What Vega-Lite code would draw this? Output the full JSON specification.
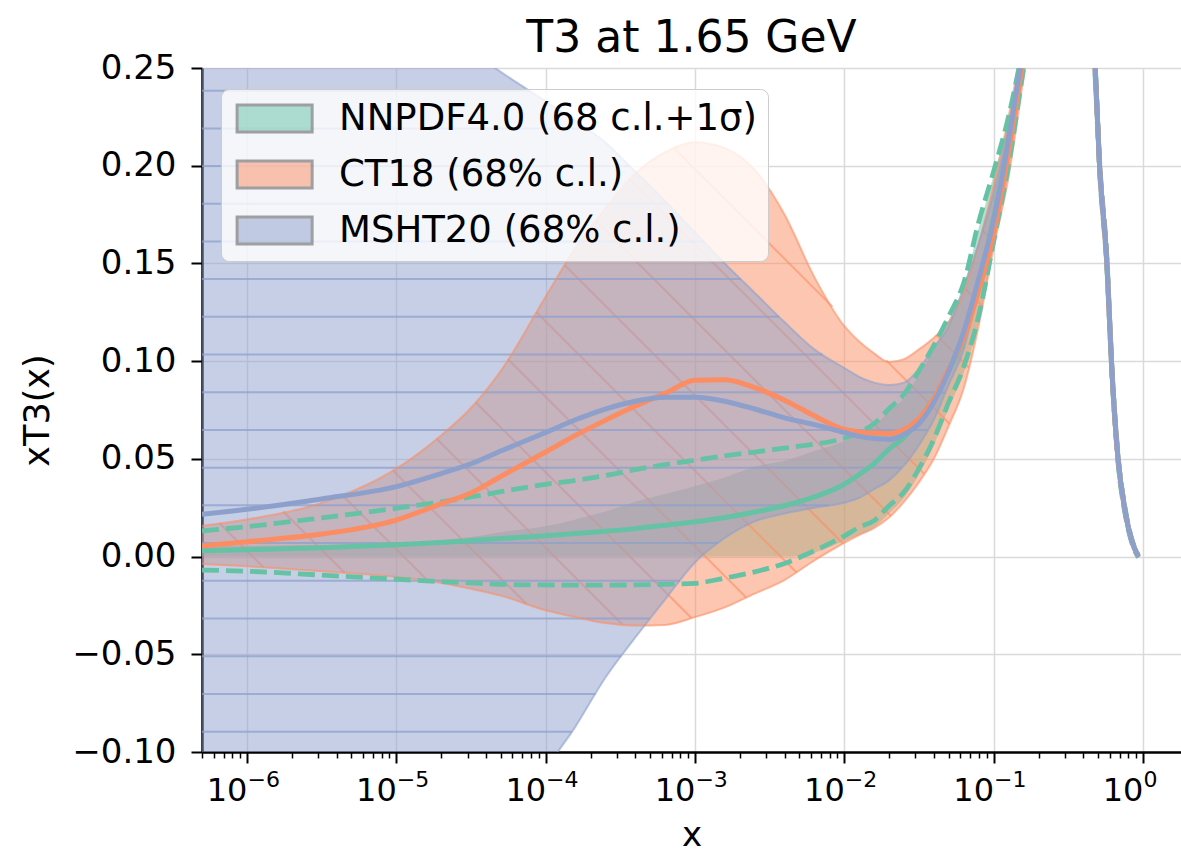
{
  "$schema": "https://vega.github.io/schema/vega-lite/v6.json",
  "width": 979,
  "height": 684,
  "autosize": {"type": "none"},
  "padding": {"left": 202, "top": 68, "right": 0, "bottom": 100},
  "background": "white",
  "title": {"text": "T3 at 1.65 GeV", "fontSize": 44, "font": "DejaVu Sans", "fontWeight": "normal", "color": "black", "offset": -10, "anchor": "middle"},
  "config": {
    "view": {"stroke": null},
    "font": "DejaVu Sans",
    "axis": {"labelFont": "DejaVu Sans", "titleFont": "DejaVu Sans", "labelColor": "black", "titleColor": "black", "titleFontWeight": "normal", "domainColor": "black", "tickColor": "black", "gridColor": "#dadada", "gridWidth": 1.5}
  },
  "datasets": {
    "pdfs": [
      {"pdf":"NNPDF4.0","x":5e-7,"mid":0.003,"lo":0.0,"hi":0.005,"slo":-0.0069,"shi":0.0131},
      {"pdf":"NNPDF4.0","x":1e-6,"mid":0.0035,"lo":0.0,"hi":0.0055,"slo":-0.0075,"shi":0.0153},
      {"pdf":"NNPDF4.0","x":3.162e-6,"mid":0.0045,"lo":0.0,"hi":0.006,"slo":-0.0095,"shi":0.0198},
      {"pdf":"NNPDF4.0","x":1e-5,"mid":0.006,"lo":0.0,"hi":0.007,"slo":-0.0116,"shi":0.0247},
      {"pdf":"NNPDF4.0","x":1.995e-5,"mid":0.0072,"lo":0.0,"hi":0.0085,"slo":-0.0128,"shi":0.028},
      {"pdf":"NNPDF4.0","x":3.162e-5,"mid":0.0082,"lo":0.0,"hi":0.01,"slo":-0.0135,"shi":0.0305},
      {"pdf":"NNPDF4.0","x":5.012e-5,"mid":0.0092,"lo":0.0,"hi":0.0125,"slo":-0.0142,"shi":0.0332},
      {"pdf":"NNPDF4.0","x":1e-4,"mid":0.0107,"lo":0.0,"hi":0.0155,"slo":-0.0145,"shi":0.037},
      {"pdf":"NNPDF4.0","x":1.585e-4,"mid":0.0118,"lo":0.0,"hi":0.019,"slo":-0.0146,"shi":0.039},
      {"pdf":"NNPDF4.0","x":2.512e-4,"mid":0.013,"lo":0.0,"hi":0.023,"slo":-0.0146,"shi":0.0415},
      {"pdf":"NNPDF4.0","x":3.981e-4,"mid":0.0143,"lo":0.0,"hi":0.028,"slo":-0.0145,"shi":0.0445},
      {"pdf":"NNPDF4.0","x":6.31e-4,"mid":0.016,"lo":0.0,"hi":0.032,"slo":-0.0142,"shi":0.047},
      {"pdf":"NNPDF4.0","x":1e-3,"mid":0.0178,"lo":0.0,"hi":0.036,"slo":-0.0137,"shi":0.0493},
      {"pdf":"NNPDF4.0","x":1.585e-3,"mid":0.02,"lo":0.0,"hi":0.0405,"slo":-0.011,"shi":0.0515},
      {"pdf":"NNPDF4.0","x":2.512e-3,"mid":0.0228,"lo":0.0,"hi":0.046,"slo":-0.0078,"shi":0.0535},
      {"pdf":"NNPDF4.0","x":3.981e-3,"mid":0.026,"lo":0.0,"hi":0.049,"slo":-0.0035,"shi":0.0555},
      {"pdf":"NNPDF4.0","x":6.31e-3,"mid":0.0305,"lo":0.002,"hi":0.054,"slo":0.003,"shi":0.0575},
      {"pdf":"NNPDF4.0","x":0.01,"mid":0.037,"lo":0.008,"hi":0.059,"slo":0.0105,"shi":0.0605},
      {"pdf":"NNPDF4.0","x":0.01259,"mid":0.042,"lo":0.011,"hi":0.0625,"slo":0.015,"shi":0.0635},
      {"pdf":"NNPDF4.0","x":0.01585,"mid":0.0476,"lo":0.015,"hi":0.067,"slo":0.0184,"shi":0.068},
      {"pdf":"NNPDF4.0","x":0.01995,"mid":0.055,"lo":0.022,"hi":0.074,"slo":0.026,"shi":0.0756},
      {"pdf":"NNPDF4.0","x":0.02512,"mid":0.061,"lo":0.03,"hi":0.081,"slo":0.033,"shi":0.083},
      {"pdf":"NNPDF4.0","x":0.03162,"mid":0.07,"lo":0.042,"hi":0.093,"slo":0.045,"shi":0.095},
      {"pdf":"NNPDF4.0","x":0.03981,"mid":0.081,"lo":0.057,"hi":0.106,"slo":0.06,"shi":0.108},
      {"pdf":"NNPDF4.0","x":0.05012,"mid":0.095,"lo":0.076,"hi":0.121,"slo":0.079,"shi":0.123},
      {"pdf":"NNPDF4.0","x":0.0631,"mid":0.112,"lo":0.094,"hi":0.138,"slo":0.097,"shi":0.14},
      {"pdf":"NNPDF4.0","x":0.07943,"mid":0.139,"lo":0.12,"hi":0.168,"slo":0.123,"shi":0.171},
      {"pdf":"NNPDF4.0","x":0.1,"mid":0.173,"lo":0.158,"hi":0.195,"slo":0.161,"shi":0.197},
      {"pdf":"NNPDF4.0","x":0.1259,"mid":0.212,"lo":0.197,"hi":0.223,"slo":0.2,"shi":0.225},
      {"pdf":"NNPDF4.0","x":0.1585,"mid":0.258,"lo":0.246,"hi":0.26,"slo":0.249,"shi":0.262},
      {"pdf":"NNPDF4.0","x":0.1995,"mid":0.3,"lo":0.294,"hi":0.306,"slo":0.294,"shi":0.306},
      {"pdf":"NNPDF4.0","x":0.2512,"mid":0.335,"lo":0.329,"hi":0.341,"slo":0.329,"shi":0.341},
      {"pdf":"NNPDF4.0","x":0.3162,"mid":0.345,"lo":0.339,"hi":0.351,"slo":0.339,"shi":0.351},
      {"pdf":"NNPDF4.0","x":0.3981,"mid":0.31,"lo":0.305,"hi":0.315,"slo":0.305,"shi":0.315},
      {"pdf":"NNPDF4.0","x":0.4786,"mid":0.25,"lo":0.246,"hi":0.254,"slo":0.246,"shi":0.254},
      {"pdf":"NNPDF4.0","x":0.5129,"mid":0.2,"lo":0.197,"hi":0.203,"slo":0.197,"shi":0.203},
      {"pdf":"NNPDF4.0","x":0.5754,"mid":0.149,"lo":0.146,"hi":0.152,"slo":0.146,"shi":0.152},
      {"pdf":"NNPDF4.0","x":0.6166,"mid":0.099,"lo":0.097,"hi":0.101,"slo":0.097,"shi":0.101},
      {"pdf":"NNPDF4.0","x":0.6839,"mid":0.049,"lo":0.047,"hi":0.051,"slo":0.047,"shi":0.051},
      {"pdf":"NNPDF4.0","x":0.7586,"mid":0.0238,"lo":0.0223,"hi":0.0253,"slo":0.0223,"shi":0.0253},
      {"pdf":"NNPDF4.0","x":0.8395,"mid":0.0085,"lo":0.0075,"hi":0.0095,"slo":0.0075,"shi":0.0095},
      {"pdf":"NNPDF4.0","x":0.9333,"mid":0.0,"lo":-0.0005,"hi":0.0005,"slo":-0.0005,"shi":0.0005},

      {"pdf":"CT18","x":5e-7,"mid":0.0054,"lo":-0.0038,"hi":0.0158},
      {"pdf":"CT18","x":1e-6,"mid":0.0076,"lo":-0.005,"hi":0.019},
      {"pdf":"CT18","x":3.162e-6,"mid":0.0115,"lo":-0.0075,"hi":0.0275},
      {"pdf":"CT18","x":1e-5,"mid":0.0187,"lo":-0.0105,"hi":0.045},
      {"pdf":"CT18","x":1.995e-5,"mid":0.027,"lo":-0.0135,"hi":0.062},
      {"pdf":"CT18","x":3.162e-5,"mid":0.0325,"lo":-0.0165,"hi":0.076},
      {"pdf":"CT18","x":5.012e-5,"mid":0.041,"lo":-0.02,"hi":0.095},
      {"pdf":"CT18","x":1e-4,"mid":0.0535,"lo":-0.0275,"hi":0.133},
      {"pdf":"CT18","x":1.585e-4,"mid":0.062,"lo":-0.031,"hi":0.158},
      {"pdf":"CT18","x":2.512e-4,"mid":0.0697,"lo":-0.034,"hi":0.178},
      {"pdf":"CT18","x":3.981e-4,"mid":0.077,"lo":-0.0353,"hi":0.196},
      {"pdf":"CT18","x":6.31e-4,"mid":0.0835,"lo":-0.035,"hi":0.207},
      {"pdf":"CT18","x":1e-3,"mid":0.0902,"lo":-0.031,"hi":0.212},
      {"pdf":"CT18","x":1.585e-3,"mid":0.0905,"lo":-0.026,"hi":0.209},
      {"pdf":"CT18","x":2.512e-3,"mid":0.0865,"lo":-0.019,"hi":0.198},
      {"pdf":"CT18","x":3.981e-3,"mid":0.08,"lo":-0.012,"hi":0.175},
      {"pdf":"CT18","x":6.31e-3,"mid":0.072,"lo":-0.002,"hi":0.143},
      {"pdf":"CT18","x":0.01,"mid":0.065,"lo":0.007,"hi":0.118},
      {"pdf":"CT18","x":0.01259,"mid":0.0638,"lo":0.011,"hi":0.11},
      {"pdf":"CT18","x":0.01585,"mid":0.0632,"lo":0.0146,"hi":0.104},
      {"pdf":"CT18","x":0.01995,"mid":0.063,"lo":0.02,"hi":0.0995},
      {"pdf":"CT18","x":0.02512,"mid":0.065,"lo":0.028,"hi":0.101},
      {"pdf":"CT18","x":0.03162,"mid":0.0705,"lo":0.038,"hi":0.106},
      {"pdf":"CT18","x":0.03981,"mid":0.081,"lo":0.05,"hi":0.112},
      {"pdf":"CT18","x":0.05012,"mid":0.096,"lo":0.067,"hi":0.12},
      {"pdf":"CT18","x":0.0631,"mid":0.112,"lo":0.086,"hi":0.135},
      {"pdf":"CT18","x":0.07943,"mid":0.136,"lo":0.118,"hi":0.16},
      {"pdf":"CT18","x":0.1,"mid":0.165,"lo":0.158,"hi":0.19},
      {"pdf":"CT18","x":0.1259,"mid":0.207,"lo":0.194,"hi":0.225},
      {"pdf":"CT18","x":0.1585,"mid":0.255,"lo":0.245,"hi":0.265},
      {"pdf":"CT18","x":0.1995,"mid":0.3,"lo":0.294,"hi":0.306},
      {"pdf":"CT18","x":0.2512,"mid":0.335,"lo":0.329,"hi":0.341},
      {"pdf":"CT18","x":0.3162,"mid":0.345,"lo":0.339,"hi":0.351},
      {"pdf":"CT18","x":0.3981,"mid":0.31,"lo":0.305,"hi":0.315},
      {"pdf":"CT18","x":0.4786,"mid":0.25,"lo":0.246,"hi":0.254},
      {"pdf":"CT18","x":0.5129,"mid":0.2,"lo":0.197,"hi":0.203},
      {"pdf":"CT18","x":0.5754,"mid":0.149,"lo":0.146,"hi":0.152},
      {"pdf":"CT18","x":0.6166,"mid":0.099,"lo":0.097,"hi":0.101},
      {"pdf":"CT18","x":0.6839,"mid":0.049,"lo":0.047,"hi":0.051},
      {"pdf":"CT18","x":0.7586,"mid":0.0238,"lo":0.0223,"hi":0.0253},
      {"pdf":"CT18","x":0.8395,"mid":0.0085,"lo":0.0075,"hi":0.0095},
      {"pdf":"CT18","x":0.9333,"mid":0.0,"lo":-0.0005,"hi":0.0005},

      {"pdf":"MSHT20","x":5e-7,"mid":0.0216,"lo":-0.6,"hi":0.33},
      {"pdf":"MSHT20","x":1e-6,"mid":0.0242,"lo":-0.55,"hi":0.32},
      {"pdf":"MSHT20","x":3.162e-6,"mid":0.0295,"lo":-0.45,"hi":0.302},
      {"pdf":"MSHT20","x":1e-5,"mid":0.0358,"lo":-0.33,"hi":0.283},
      {"pdf":"MSHT20","x":1.995e-5,"mid":0.0425,"lo":-0.26,"hi":0.27},
      {"pdf":"MSHT20","x":3.162e-5,"mid":0.0475,"lo":-0.21,"hi":0.259},
      {"pdf":"MSHT20","x":5.012e-5,"mid":0.054,"lo":-0.165,"hi":0.248},
      {"pdf":"MSHT20","x":1e-4,"mid":0.0635,"lo":-0.11,"hi":0.233},
      {"pdf":"MSHT20","x":1.585e-4,"mid":0.07,"lo":-0.087,"hi":0.223},
      {"pdf":"MSHT20","x":2.512e-4,"mid":0.0755,"lo":-0.062,"hi":0.212},
      {"pdf":"MSHT20","x":3.981e-4,"mid":0.0795,"lo":-0.0415,"hi":0.197},
      {"pdf":"MSHT20","x":6.31e-4,"mid":0.0815,"lo":-0.022,"hi":0.182},
      {"pdf":"MSHT20","x":1e-3,"mid":0.0815,"lo":-0.003,"hi":0.166},
      {"pdf":"MSHT20","x":1.585e-3,"mid":0.0795,"lo":0.0095,"hi":0.15},
      {"pdf":"MSHT20","x":2.512e-3,"mid":0.0755,"lo":0.018,"hi":0.135},
      {"pdf":"MSHT20","x":3.981e-3,"mid":0.071,"lo":0.022,"hi":0.12},
      {"pdf":"MSHT20","x":6.31e-3,"mid":0.0675,"lo":0.025,"hi":0.106},
      {"pdf":"MSHT20","x":0.01,"mid":0.0635,"lo":0.0275,"hi":0.0965},
      {"pdf":"MSHT20","x":0.01259,"mid":0.0615,"lo":0.03,"hi":0.092},
      {"pdf":"MSHT20","x":0.01585,"mid":0.0604,"lo":0.0345,"hi":0.089},
      {"pdf":"MSHT20","x":0.01995,"mid":0.06,"lo":0.039,"hi":0.0878},
      {"pdf":"MSHT20","x":0.02512,"mid":0.0625,"lo":0.0465,"hi":0.089},
      {"pdf":"MSHT20","x":0.03162,"mid":0.068,"lo":0.057,"hi":0.096},
      {"pdf":"MSHT20","x":0.03981,"mid":0.079,"lo":0.07,"hi":0.107},
      {"pdf":"MSHT20","x":0.05012,"mid":0.095,"lo":0.088,"hi":0.118},
      {"pdf":"MSHT20","x":0.0631,"mid":0.115,"lo":0.106,"hi":0.138},
      {"pdf":"MSHT20","x":0.07943,"mid":0.142,"lo":0.137,"hi":0.16},
      {"pdf":"MSHT20","x":0.1,"mid":0.172,"lo":0.17,"hi":0.186},
      {"pdf":"MSHT20","x":0.1259,"mid":0.213,"lo":0.207,"hi":0.22},
      {"pdf":"MSHT20","x":0.1585,"mid":0.26,"lo":0.25,"hi":0.262},
      {"pdf":"MSHT20","x":0.1995,"mid":0.3,"lo":0.294,"hi":0.306},
      {"pdf":"MSHT20","x":0.2512,"mid":0.335,"lo":0.329,"hi":0.341},
      {"pdf":"MSHT20","x":0.3162,"mid":0.345,"lo":0.339,"hi":0.351},
      {"pdf":"MSHT20","x":0.3981,"mid":0.31,"lo":0.305,"hi":0.315},
      {"pdf":"MSHT20","x":0.4786,"mid":0.25,"lo":0.246,"hi":0.254},
      {"pdf":"MSHT20","x":0.5129,"mid":0.2,"lo":0.197,"hi":0.203},
      {"pdf":"MSHT20","x":0.5754,"mid":0.149,"lo":0.146,"hi":0.152},
      {"pdf":"MSHT20","x":0.6166,"mid":0.099,"lo":0.097,"hi":0.101},
      {"pdf":"MSHT20","x":0.6839,"mid":0.049,"lo":0.047,"hi":0.051},
      {"pdf":"MSHT20","x":0.7586,"mid":0.0238,"lo":0.0223,"hi":0.0253},
      {"pdf":"MSHT20","x":0.8395,"mid":0.0085,"lo":0.0075,"hi":0.0095},
      {"pdf":"MSHT20","x":0.9333,"mid":0.0,"lo":-0.0005,"hi":0.0005}
    ],
    "msht_hatch": [
      {"y":0.2384,"x1":5e-7,"x2":7.8e-5},
      {"y":0.2191,"x1":5e-7,"x2":1.87e-4},
      {"y":0.1998,"x1":5e-7,"x2":3.66e-4},
      {"y":0.1805,"x1":5e-7,"x2":6.59e-4},
      {"y":0.1612,"x1":5e-7,"x2":1.148e-3},
      {"y":0.142,"x1":5e-7,"x2":2.03e-3},
      {"y":0.1227,"x1":5e-7,"x2":3.66e-3},
      {"y":0.1034,"x1":5e-7,"x2":7.16e-3},
      {"y":0.0841,"x1":5e-7,"x2":0.0476},
      {"y":0.0648,"x1":5e-7,"x2":0.0363},
      {"y":0.0455,"x1":5e-7,"x2":0.0244},
      {"y":0.0262,"x1":5e-7,"x2":7.87e-3},
      {"y":0.0069,"x1":5e-7,"x2":1.44e-3},
      {"y":-0.0124,"x1":5e-7,"x2":7.96e-4},
      {"y":-0.0317,"x1":5e-7,"x2":5.01e-4},
      {"y":-0.051,"x1":5e-7,"x2":3.21e-4},
      {"y":-0.0703,"x1":5e-7,"x2":2.16e-4},
      {"y":-0.0896,"x1":5e-7,"x2":1.5e-4}
    ],
    "ct18_hatch": [
      {"x1":6.553e-7,"y1":0.01704,"x2":1.296e-6,"y2":-0.00558},
      {"x1":1.748e-6,"y1":0.02308,"x2":4.519e-6,"y2":-0.00844},
      {"x1":4.268e-6,"y1":0.03203,"x2":1.641e-5,"y2":-0.01264},
      {"x1":9.475e-6,"y1":0.04416,"x2":7.459e-5,"y2":-0.0243},
      {"x1":1.862e-5,"y1":0.06033,"x2":3.268e-4,"y2":-0.03474},
      {"x1":3.397e-5,"y1":0.07895,"x2":9.476e-4,"y2":-0.03147},
      {"x1":5.592e-5,"y1":0.101,"x2":2.206e-3,"y2":-0.02093},
      {"x1":8.665e-5,"y1":0.1251,"x2":4.783e-3,"y2":-0.00803},
      {"x1":1.345e-4,"y1":0.1491,"x2":9.83e-3,"y2":0.00665},
      {"x1":2.172e-4,"y1":0.1717,"x2":0.02049,"y2":0.02088},
      {"x1":3.675e-4,"y1":0.1929,"x2":0.03435,"y2":0.04232},
      {"x1":7.311e-4,"y1":0.2086,"x2":8.337e-3,"y2":0.1279},
      {"x1":0.01909,"y1":0.1004,"x2":0.05074,"y2":0.06795},
      {"x1":0.04139,"y1":0.1133,"x2":0.06823,"y2":0.09671},
      {"x1":0.06443,"y1":0.1372,"x2":0.08424,"y2":0.1283},
      {"x1":0.08385,"y1":0.167,"x2":0.1019,"y2":0.1606}
    ]
  },
  "data": {"name": "pdfs"},
  "resolve": {"axis": {"x": "independent"}},
  "layer": [
    {
      "transform": [{"filter": "datum.pdf == 'NNPDF4.0'"}],
      "mark": {"type": "area", "opacity": 0.5, "clip": true, "interpolate": "monotone"},
      "encoding": {
        "x": {"field": "x", "type": "quantitative", "scale": {"type": "log", "domain": [5e-7, 1.8], "nice": false},
          "axis": {"orient": "bottom", "values": [1e-6, 1e-5, 1e-4, 1e-3, 1e-2, 1e-1, 1],
            "labelExpr": "'10'", "labelAlign": "right", "labelDx": -1,
            "labelFontSize": 32, "labelPadding": 12, "labelFlush": false, "labelOverlap": false,
            "tickSize": 11, "tickWidth": 2, "domainWidth": 2.5, "grid": true,
            "title": "x", "titleFontSize": 34, "titlePadding": 12}},
        "y": {"field": "hi", "type": "quantitative", "scale": {"domain": [-0.1, 0.25], "nice": false, "zero": false},
          "axis": {"orient": "left", "values": [-0.1, -0.05, 0, 0.05, 0.1, 0.15, 0.2, 0.25],
            "labelExpr": "(datum.value < -1e-9 ? '−' : '') + format(abs(datum.value), '.2f')",
            "labelFontSize": 34, "labelPadding": 15, "labelFlush": false,
            "tickSize": 11, "tickWidth": 2, "domainWidth": 2.5, "grid": true,
            "title": "xT3(x)", "titleFontSize": 35, "titlePadding": 16}},
        "y2": {"field": "lo"},
        "color": {"field": "pdf", "type": "nominal",
          "scale": {"domain": ["NNPDF4.0", "CT18", "MSHT20"], "range": ["#66c2a5", "#fc8d62", "#8da0cb"]},
          "legend": {"orient": "none", "legendX": 19, "legendY": 21, "title": null,
            "labelFontSize": 37, "labelFont": "DejaVu Sans", "labelColor": "black", "labelLimit": 0,
            "labelExpr": "datum.value == 'NNPDF4.0' ? 'NNPDF4.0 (68 c.l.+1σ)' : datum.value + ' (68% c.l.)'",
            "symbolType": "M-1,-1H4.6V1H-1Z", "symbolSize": 718,
            "symbolStrokeColor": "#4a4a4a", "symbolStrokeWidth": 3,
            "labelOffset": 70, "padding": 11, "rowPadding": 17,
            "fillColor": "rgba(255,255,255,0.8)", "strokeColor": "#cccccc", "cornerRadius": 8,
            "encode": {
              "symbols": {
                "update": {
                  "fillOpacity": {"value": 0.55},
                  "stroke": {"signal": "datum.value == 'NNPDF4.0' ? '#66c2a5' : '#4a4a4a'"},
                  "strokeDash": {"signal": "datum.value == 'NNPDF4.0' ? [7, 4] : [1, 0]"},
                  "strokeOpacity": {"value": 0.9},
                  "strokeWidth": {"value": 3}
                }
              }
            }}}
      }
    },
    {
      "transform": [{"filter": "datum.pdf == 'CT18'"}],
      "mark": {"type": "area", "color": "#fc8d62", "opacity": 0.5, "clip": true, "interpolate": "monotone"},
      "encoding": {
        "x": {"field": "x", "type": "quantitative",
          "axis": {"orient": "bottom", "values": [1e-6, 1e-5, 1e-4, 1e-3, 1e-2, 1e-1, 1],
            "labelExpr": "(datum.value < 0.5 ? '−' : '') + round(abs(log(datum.value)/LN10))",
            "labelAlign": "left", "labelDx": 3, "labelFontSize": 22, "labelPadding": 6, "labelFlush": false, "labelOverlap": false,
            "ticks": true, "tickSize": 11, "tickOpacity": 0, "domain": false, "grid": false, "title": null}},
        "y": {"field": "hi", "type": "quantitative"},
        "y2": {"field": "lo"}
      }
    },
    {
      "data": {"name": "ct18_hatch"},
      "mark": {"type": "rule", "color": "#fc8d62", "opacity": 0.6, "strokeWidth": 2, "clip": true},
      "encoding": {
        "x": {"field": "x1", "type": "quantitative", "axis": null},
        "x2": {"field": "x2"},
        "y": {"field": "y1", "type": "quantitative"},
        "y2": {"field": "y2"}
      }
    },
    {
      "transform": [{"filter": "datum.pdf == 'MSHT20'"}],
      "mark": {"type": "area", "color": "#8da0cb", "opacity": 0.5, "clip": true, "interpolate": "monotone"},
      "encoding": {
        "x": {"field": "x", "type": "quantitative", "axis": null},
        "y": {"field": "hi", "type": "quantitative"},
        "y2": {"field": "lo"}
      }
    },
    {
      "data": {"name": "msht_hatch"},
      "mark": {"type": "rule", "color": "#8da0cb", "opacity": 0.75, "strokeWidth": 2, "clip": true},
      "encoding": {
        "x": {"field": "x1", "type": "quantitative", "axis": {"orient": "bottom", "values": [5e-7,6e-7,7e-7,8e-7,9e-7,2e-6,3e-6,4e-6,5e-6,6e-6,7e-6,8e-6,9e-6,2e-5,3e-5,4e-5,5e-5,6e-5,7e-5,8e-5,9e-5,2e-4,3e-4,4e-4,5e-4,6e-4,7e-4,8e-4,9e-4,2e-3,3e-3,4e-3,5e-3,6e-3,7e-3,8e-3,9e-3,0.02,0.03,0.04,0.05,0.06,0.07,0.08,0.09,0.2,0.3,0.4,0.5,0.6,0.7,0.8,0.9], "labels": false, "grid": false, "domain": false, "tickSize": 6, "tickWidth": 1.5, "title": null}},
        "x2": {"field": "x2"},
        "y": {"field": "y", "type": "quantitative"}
      }
    },
    {
      "transform": [{"filter": "datum.pdf == 'CT18'"}],
      "mark": {"type": "line", "color": "#fc8d62", "opacity": 0.6, "strokeWidth": 2, "clip": true, "interpolate": "monotone"},
      "encoding": {
        "x": {"field": "x", "type": "quantitative", "axis": null},
        "y": {"field": "lo", "type": "quantitative"}
      }
    },
    {
      "transform": [{"filter": "datum.pdf == 'CT18'"}],
      "mark": {"type": "line", "color": "#fc8d62", "opacity": 0.6, "strokeWidth": 2, "clip": true, "interpolate": "monotone"},
      "encoding": {
        "x": {"field": "x", "type": "quantitative", "axis": null},
        "y": {"field": "hi", "type": "quantitative"}
      }
    },
    {
      "transform": [{"filter": "datum.pdf == 'MSHT20'"}],
      "mark": {"type": "line", "color": "#8da0cb", "opacity": 0.6, "strokeWidth": 2, "clip": true, "interpolate": "monotone"},
      "encoding": {
        "x": {"field": "x", "type": "quantitative", "axis": null},
        "y": {"field": "lo", "type": "quantitative"}
      }
    },
    {
      "transform": [{"filter": "datum.pdf == 'MSHT20'"}],
      "mark": {"type": "line", "color": "#8da0cb", "opacity": 0.6, "strokeWidth": 2, "clip": true, "interpolate": "monotone"},
      "encoding": {
        "x": {"field": "x", "type": "quantitative", "axis": null},
        "y": {"field": "hi", "type": "quantitative"}
      }
    },
    {
      "transform": [{"filter": "datum.pdf == 'NNPDF4.0'"}],
      "mark": {"type": "line", "color": "#66c2a5", "strokeWidth": 4.8, "strokeDash": [17, 7], "clip": true, "interpolate": "monotone"},
      "encoding": {
        "x": {"field": "x", "type": "quantitative", "axis": null},
        "y": {"field": "slo", "type": "quantitative"}
      }
    },
    {
      "transform": [{"filter": "datum.pdf == 'NNPDF4.0'"}],
      "mark": {"type": "line", "color": "#66c2a5", "strokeWidth": 4.8, "strokeDash": [17, 7], "clip": true, "interpolate": "monotone"},
      "encoding": {
        "x": {"field": "x", "type": "quantitative", "axis": null},
        "y": {"field": "shi", "type": "quantitative"}
      }
    },
    {
      "transform": [{"filter": "datum.pdf == 'NNPDF4.0'"}],
      "mark": {"type": "line", "color": "#66c2a5", "strokeWidth": 5, "clip": true, "interpolate": "monotone"},
      "encoding": {
        "x": {"field": "x", "type": "quantitative", "axis": null},
        "y": {"field": "mid", "type": "quantitative"}
      }
    },
    {
      "transform": [{"filter": "datum.pdf == 'CT18'"}],
      "mark": {"type": "line", "color": "#fc8d62", "strokeWidth": 5, "clip": true, "interpolate": "monotone"},
      "encoding": {
        "x": {"field": "x", "type": "quantitative", "axis": null},
        "y": {"field": "mid", "type": "quantitative"}
      }
    },
    {
      "transform": [{"filter": "datum.pdf == 'MSHT20'"}],
      "mark": {"type": "line", "color": "#8da0cb", "strokeWidth": 5, "clip": true, "interpolate": "monotone"},
      "encoding": {
        "x": {"field": "x", "type": "quantitative", "axis": null},
        "y": {"field": "mid", "type": "quantitative"}
      }
    }
  ]
}
